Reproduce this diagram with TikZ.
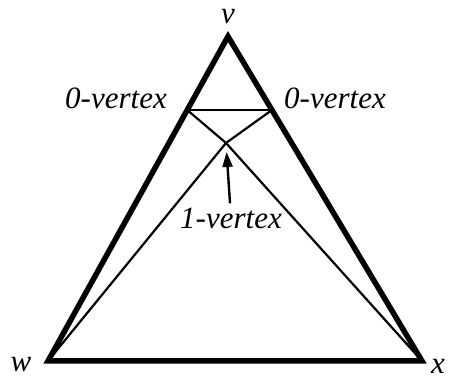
\documentclass[tikz,border=0pt]{standalone}
\usepackage{fontspec}
\setmainfont{Liberation Serif}[ItalicFont={Liberation Serif Italic}]
\usetikzlibrary{arrows.meta, calc}

\begin{document}
\begin{tikzpicture}[x=1pt, y=1pt,
    outer/.style={line width=5.5pt, line join=miter},
    inner/.style={line width=2.2pt},
    lbl/.style={inner sep=0pt, font=\rmfamily\itshape\fontsize{31}{36}\selectfont}]
        \useasboundingbox (0,0) rectangle (449,379);

        % corners of the big triangle
        \coordinate (v) at (228,342.5);
        \coordinate (w) at (48,18);
        \coordinate (x) at (422,18);

        % the two 0-vertices on the sides and the 1-vertex
        \coordinate (lft) at ($(v)!0.2265!(w)$);
        \coordinate (rgt) at ($(v)!0.2265!(x)$);
        \coordinate (one) at (226,236);

        % big triangle
        \draw[outer] (v) -- (w) -- (x) -- cycle;

        % inner edges
        \draw[inner] (lft) -- (rgt);
        \draw[inner] (lft) -- (one) -- (x);
        \draw[inner] (rgt) -- (one) -- (w);

        % labels
        \node[lbl] (vlabel) at (228,362) {v};
        \node[lbl] (wlabel) at (21,14) {w};
        \node[lbl] (xlabel) at (438,13) {x};
        \node[lbl] (lftlabel) at (116,281) {0-vertex};
        \node[lbl] (rgtlabel) at (335,281) {0-vertex};
        \node[lbl] (onelabel) at (231,161) {1-vertex};

        % arrow to the 1-vertex
        \draw[line width=2.4pt, -{Triangle[length=15pt, width=10pt]}, shorten >=9pt]
            ($(onelabel.north)+(-1,4)$) -- (one);
    \end{tikzpicture}
\end{document}
